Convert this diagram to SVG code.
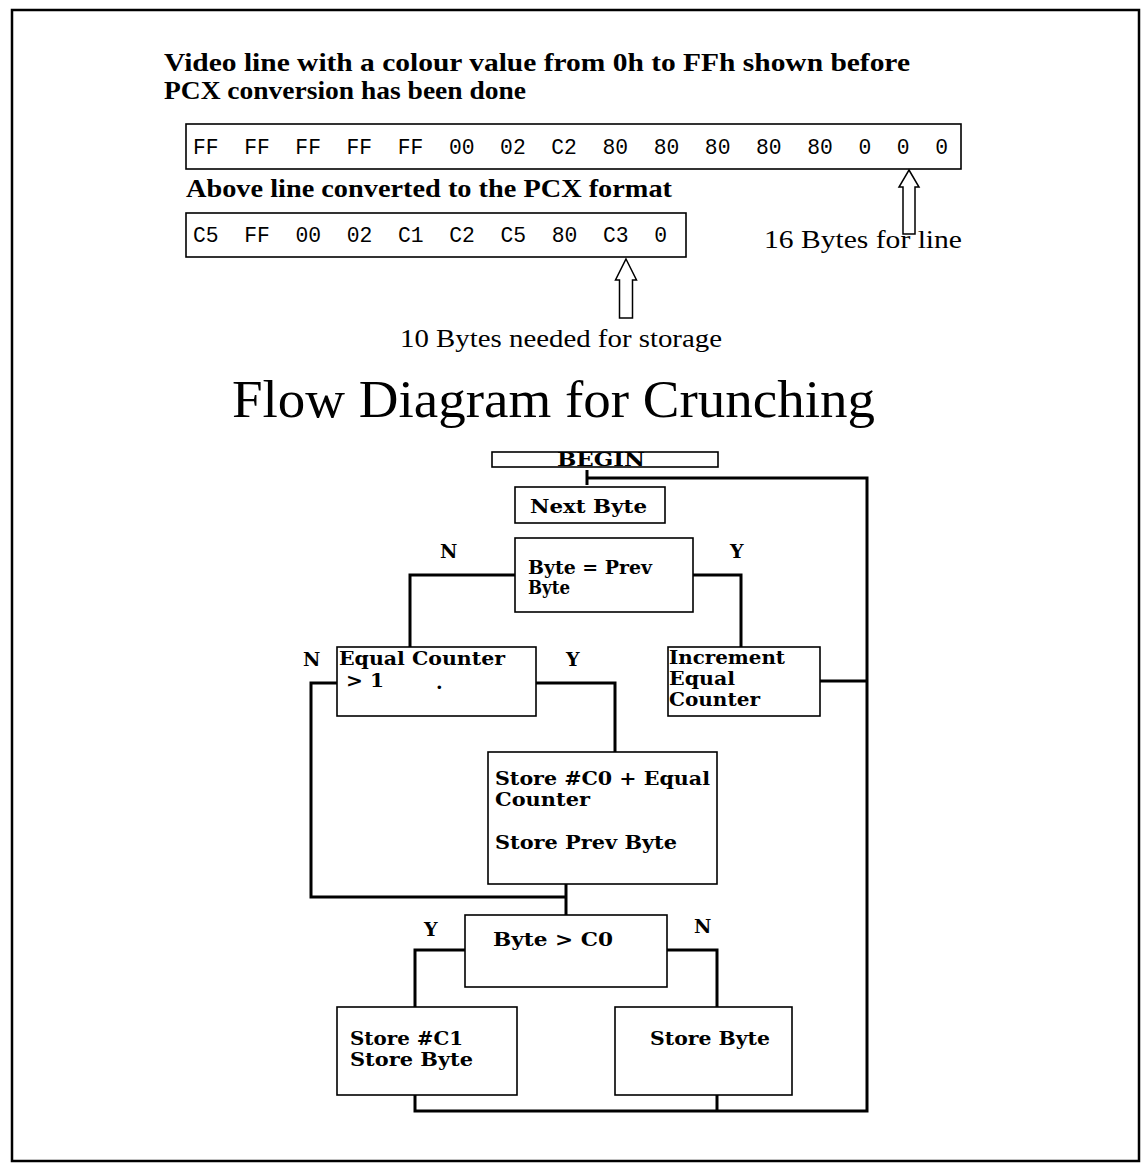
<svg xmlns="http://www.w3.org/2000/svg" width="1141" height="1165" viewBox="0 0 1141 1165">
  <style>
    .hdr { font-family: "Liberation Serif", "Times New Roman", serif; font-weight: bold; font-size: 26px; fill: #000; }
    .cap { font-family: "Liberation Serif", "Times New Roman", serif; font-size: 25px; fill: #000; }
    .mono { font-family: "Liberation Mono", "Courier New", monospace; font-size: 22px; fill: #000; }
    .title { font-family: "Liberation Serif", "Times New Roman", serif; font-size: 52px; fill: #000; }
    .lbl { font-family: "DejaVu Serif", "Liberation Serif", serif; font-weight: bold; font-size: 19px; fill: #000; }
    .box { fill: #fff; stroke: #000; stroke-width: 1.6; }
    .wire { fill: none; stroke: #000; stroke-width: 3; }
    .arrow { fill: none; stroke: #000; stroke-width: 1.5; stroke-linejoin: miter; }
  </style>

  <!-- page frame -->
  <rect x="12" y="10" width="1127" height="1151" fill="#fff" stroke="#000" stroke-width="2.5"/>

  <!-- byte line example -->
  <g id="intro">
    <text class="hdr" x="164" y="71" textLength="746" lengthAdjust="spacingAndGlyphs">Video line with a colour value from 0h to FFh shown before</text>
    <text class="hdr" x="164" y="99" textLength="362" lengthAdjust="spacingAndGlyphs">PCX conversion has been done</text>
  </g>
  <g id="raw-line">
    <rect class="box" x="186" y="124" width="775" height="45"/>
    <text class="mono" x="193" y="154" xml:space="preserve" textLength="755" lengthAdjust="spacingAndGlyphs">FF  FF  FF  FF  FF  00  02  C2  80  80  80  80  80  0  0  0</text>
  </g>
  <g id="pcx-caption">
    <text class="hdr" x="186" y="197" textLength="486" lengthAdjust="spacingAndGlyphs">Above line converted to the PCX format</text>
  </g>
  <g id="pcx-line">
    <rect class="box" x="186" y="213" width="500" height="44"/>
    <text class="mono" x="193" y="242" xml:space="preserve" textLength="474" lengthAdjust="spacingAndGlyphs">C5  FF  00  02  C1  C2  C5  80  C3  0</text>
  </g>
  <g id="raw-size">
    <path class="arrow" d="M909 170 L919 187 L915 187 L915 234 L903 234 L903 187 L899 187 Z"/>
    <text class="cap" x="764" y="248" textLength="198" lengthAdjust="spacingAndGlyphs">16 Bytes for line</text>
  </g>
  <g id="pcx-size">
    <path class="arrow" d="M626 259 L636.5 280 L632.5 280 L632.5 318 L619.5 318 L619.5 280 L615.5 280 Z"/>
    <text class="cap" x="400" y="347" textLength="322" lengthAdjust="spacingAndGlyphs">10 Bytes needed for storage</text>
  </g>

  <text class="title" x="232" y="417" textLength="643" lengthAdjust="spacingAndGlyphs">Flow Diagram for Crunching</text>

  <!-- flow connectors -->
  <g id="connectors">
    <path class="wire" d="M587 470 L587 485"/>
    <path class="wire" d="M587 478 L867 478 L867 1111 L415 1111 L415 1095"/>
    <path class="wire" d="M717 1111 L717 1095"/>
    <path class="wire" d="M515 575 L410 575 L410 647"/>
    <path class="wire" d="M693 575 L741 575 L741 647"/>
    <path class="wire" d="M820 681 L867 681"/>
    <path class="wire" d="M536 683 L615 683 L615 752"/>
    <path class="wire" d="M337 683 L311 683 L311 897 L566 897"/>
    <path class="wire" d="M566 884 L566 915"/>
    <path class="wire" d="M465 950 L415 950 L415 1007"/>
    <path class="wire" d="M667 950 L717 950 L717 1007"/>
  </g>

  <!-- branch labels -->
  <g id="branch-labels">
    <text class="lbl" x="440" y="558">N</text>
    <text class="lbl" x="730" y="558">Y</text>
    <text class="lbl" x="303" y="666">N</text>
    <text class="lbl" x="566" y="666">Y</text>
    <text class="lbl" x="424" y="936">Y</text>
    <text class="lbl" x="694" y="933">N</text>
  </g>

  <g id="begin">
    <rect class="box" x="492" y="452" width="226" height="15"/>
    <text class="lbl" x="557" y="466" textLength="88" lengthAdjust="spacingAndGlyphs">BEGIN</text>
  </g>
  <g id="next-byte">
    <rect class="box" x="515" y="487" width="150" height="36"/>
    <text class="lbl" x="530" y="513" textLength="117" lengthAdjust="spacingAndGlyphs">Next Byte</text>
  </g>
  <g id="byte-eq-prev">
    <rect class="box" x="515" y="538" width="178" height="74"/>
    <text class="lbl" x="528" y="574" textLength="124" lengthAdjust="spacingAndGlyphs">Byte = Prev</text>
    <text class="lbl" x="528" y="594" textLength="42" lengthAdjust="spacingAndGlyphs">Byte</text>
  </g>
  <g id="equal-counter-gt-1">
    <rect class="box" x="337" y="647" width="199" height="69"/>
    <text class="lbl" x="339" y="665" textLength="166" lengthAdjust="spacingAndGlyphs">Equal Counter</text>
    <text class="lbl" x="346" y="687" textLength="38" lengthAdjust="spacingAndGlyphs">&gt; 1</text>
    <text class="lbl" x="436" y="689">.</text>
  </g>
  <g id="increment-counter">
    <rect class="box" x="668" y="647" width="152" height="69"/>
    <text class="lbl" x="669" y="664" textLength="116" lengthAdjust="spacingAndGlyphs">Increment</text>
    <text class="lbl" x="669" y="685" textLength="66" lengthAdjust="spacingAndGlyphs">Equal</text>
    <text class="lbl" x="669" y="706" textLength="91" lengthAdjust="spacingAndGlyphs">Counter</text>
  </g>
  <g id="store-run">
    <rect class="box" x="488" y="752" width="229" height="132"/>
    <text class="lbl" x="495" y="785" textLength="215" lengthAdjust="spacingAndGlyphs">Store #C0 + Equal</text>
    <text class="lbl" x="495" y="806" textLength="95" lengthAdjust="spacingAndGlyphs">Counter</text>
    <text class="lbl" x="495" y="849" textLength="182" lengthAdjust="spacingAndGlyphs">Store Prev Byte</text>
  </g>
  <g id="byte-gt-c0">
    <rect class="box" x="465" y="915" width="202" height="72"/>
    <text class="lbl" x="493" y="946" textLength="120" lengthAdjust="spacingAndGlyphs">Byte &gt; C0</text>
  </g>
  <g id="store-c1-byte">
    <rect class="box" x="337" y="1007" width="180" height="88"/>
    <text class="lbl" x="350" y="1045" textLength="113" lengthAdjust="spacingAndGlyphs">Store #C1</text>
    <text class="lbl" x="350" y="1066" textLength="123" lengthAdjust="spacingAndGlyphs">Store Byte</text>
  </g>
  <g id="store-byte">
    <rect class="box" x="615" y="1007" width="177" height="88"/>
    <text class="lbl" x="650" y="1045" textLength="120" lengthAdjust="spacingAndGlyphs">Store Byte</text>
  </g>
</svg>
